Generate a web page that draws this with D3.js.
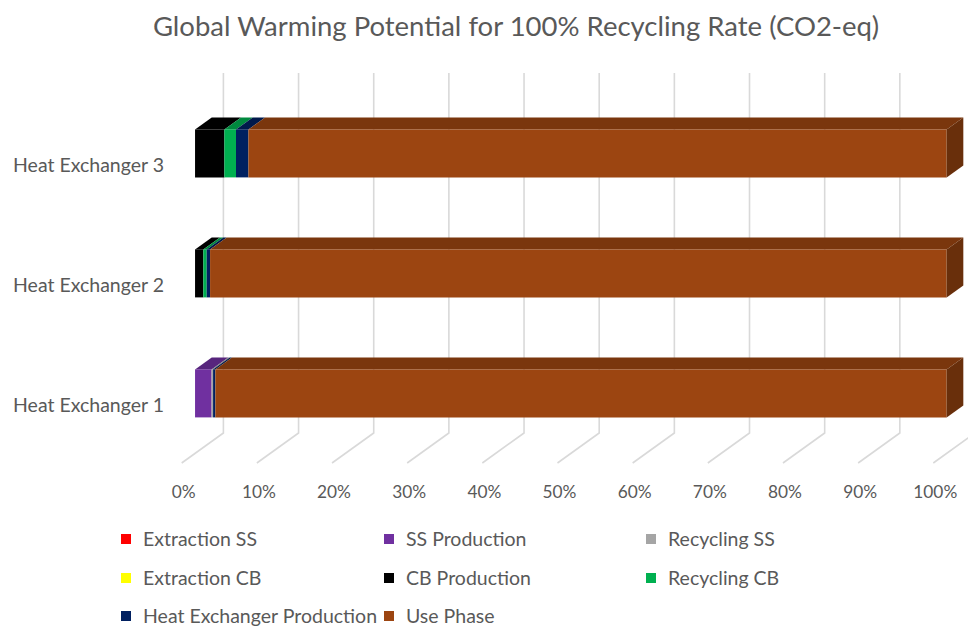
<!DOCTYPE html>
<html>
<head>
<meta charset="utf-8">
<script src="https://cdn.jsdelivr.net/npm/d3@7"></script>
<style>
  html, body { margin: 0; padding: 0; background: #ffffff; }
  svg { display: block; }
  text { font-family: Lato, "Liberation Sans", sans-serif; fill: #595959; }
</style>
</head>
<body>
<svg id="chart" width="968" height="628"></svg>
<script>
// Share of each life-cycle stage in total CO2-eq (percent of each bar)
const categories = ["Heat Exchanger 1", "Heat Exchanger 2", "Heat Exchanger 3"];
const seriesNames = ["Extraction SS", "SS Production", "Recycling SS",
                     "Extraction CB", "CB Production", "Recycling CB",
                     "Heat Exchanger Production", "Use Phase"];
const seriesColors = ["#FF0000", "#7030A0", "#A5A5A5",
                      "#FFFF00", "#000000", "#00B050",
                      "#002060", "#9C4511"];
const extractionSS = [0, 0, 0];
const ssProduction = [2.2, 0, 0];
const recyclingSS  = [0.2, 0, 0];
const extractionCB = [0, 0, 0];
const cbProduction = [0, 1.1, 3.9];
const recyclingCB  = [0, 0.45, 1.55];
const heProduction = [0.3, 0.45, 1.65];
const usePhase     = [97.3, 98.0, 92.9];
const tickValues = [0, 10, 20, 30, 40, 50, 60, 70, 80, 90, 100];

const seriesValues = [extractionSS, ssProduction, recyclingSS, extractionCB,
                      cbProduction, recyclingCB, heProduction, usePhase];

const svg = d3.select("#chart");

// Oblique projection: depth 0 = front edge of floor, depth 1 = back wall
const depthDX = 41.7, depthDY = -30;
const x = d3.scaleLinear().domain([0, 100]).range([181.7, 933.3]);
const y = d3.scaleBand()
  .domain(categories.slice().reverse())
  .range([103, 463])
  .paddingInner(0.6)
  .paddingOuter(0.3);
const proj = (v, yy, d) => [x(v) + d * depthDX, yy + d * depthDY];

const floorY = 463;
const wallTopY = 103;
const barFront = 0.32, barBack = 0.72;

// Title
svg.append("text")
  .attr("x", 516).attr("y", 36)
  .attr("text-anchor", "middle")
  .style("font-size", "27.5px")
  .text("Global Warming Potential for 100% Recycling Rate (CO2-eq)");

// Gridlines: floor diagonals and vertical lines on the back wall
const grid = svg.append("g").attr("stroke", "#D9D9D9").attr("stroke-width", 1.6).attr("fill", "none");
tickValues.forEach(t => {
  const a = proj(t, floorY, 0), b = proj(t, floorY, 1), c = proj(t, wallTopY, 1);
  grid.append("path").attr("d", d3.line()([a, b, c]));
});

// Tick labels along the front edge of the floor
svg.append("g").selectAll("text").data(tickValues).join("text")
  .attr("x", d => x(d) + 2)
  .attr("y", 498)
  .attr("text-anchor", "middle")
  .style("font-size", "17.3px")
  .text(d => d + "%");

// Category labels
svg.append("g").selectAll("text").data(categories).join("text")
  .attr("x", 164)
  .attr("y", d => y(d) + y.bandwidth() / 2 + 9)
  .attr("text-anchor", "end")
  .style("font-size", "19.5px")
  .text(d => d);

// Stacked 3D bars
const rows = categories.map((c, i) => {
  const r = { category: c };
  seriesNames.forEach((s, k) => r[s] = seriesValues[k][i]);
  return r;
});
const stacked = d3.stack().keys(seriesNames)(rows);

const bars = svg.append("g");
categories.forEach((cat, i) => {
  const y0 = y(cat), y1 = y(cat) + y.bandwidth();
  const segs = stacked.map((layer, k) => ({ k, a: layer[i][0], b: layer[i][1] }))
                      .filter(s => s.b - s.a > 0);
  const g = bars.append("g");
  segs.forEach((s, idx) => {
    const base = d3.color(seriesColors[s.k]);
    const topCol = base.darker(0.7).formatHex();
    const sideCol = base.darker(1.1).formatHex();
    // top face
    const t = [proj(s.a, y0, barFront), proj(s.b, y0, barFront), proj(s.b, y0, barBack), proj(s.a, y0, barBack)];
    g.append("path").attr("d", d3.line()(t) + "Z").attr("fill", topCol);
    // front face
    const f = [proj(s.a, y0, barFront), proj(s.b, y0, barFront), proj(s.b, y1, barFront), proj(s.a, y1, barFront)];
    g.append("path").attr("d", d3.line()(f) + "Z").attr("fill", seriesColors[s.k]);
    // right end face on the last segment
    if (idx === segs.length - 1) {
      const r = [proj(s.b, y0, barFront), proj(s.b, y0, barBack), proj(s.b, y1, barBack), proj(s.b, y1, barFront)];
      g.append("path").attr("d", d3.line()(r) + "Z").attr("fill", sideCol);
    }
  });
});

// Legend
const legendCols = [126, 389, 651];
const legendRows = [539, 578, 616];
const legend = svg.append("g");
seriesNames.forEach((s, k) => {
  const cx = legendCols[k % 3], cy = legendRows[Math.floor(k / 3)];
  legend.append("rect")
    .attr("x", cx - 5).attr("y", cy - 5)
    .attr("width", 10).attr("height", 10)
    .attr("fill", seriesColors[k]);
  legend.append("text")
    .attr("x", cx + 17).attr("y", cy + 7)
    .style("font-size", "19.5px")
    .text(s);
});
</script>
</body>
</html>
